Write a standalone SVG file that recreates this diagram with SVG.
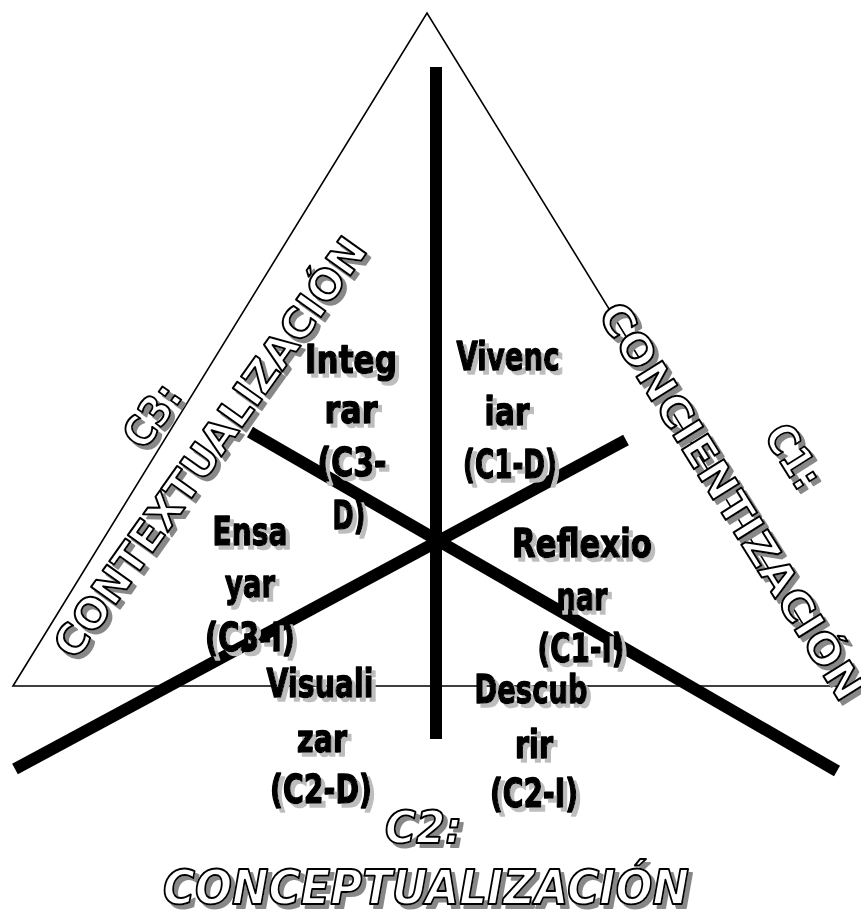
<svg xmlns="http://www.w3.org/2000/svg" width="861" height="917" viewBox="0 0 861 917">
<defs>
<filter id="shLight" x="-20%" y="-20%" width="150%" height="160%">
<feOffset in="SourceAlpha" dx="4" dy="4" result="o"/>
<feFlood flood-color="#bdbdbd"/>
<feComposite in2="o" operator="in" result="s"/>
<feMerge><feMergeNode in="s"/><feMergeNode in="SourceGraphic"/></feMerge>
</filter>
<filter id="shDark" x="-20%" y="-20%" width="150%" height="160%">
<feOffset in="SourceAlpha" dx="4" dy="4" result="o"/>
<feFlood flood-color="#888888"/>
<feComposite in2="o" operator="in" result="s"/>
<feMerge><feMergeNode in="s"/><feMergeNode in="SourceGraphic"/></feMerge>
</filter>
</defs>
<style>
.blk{font-family:"DejaVu Sans","Liberation Sans",sans-serif;font-weight:bold;font-size:39px;fill:#000;stroke:#000;stroke-width:1.6px;stroke-linejoin:round;text-anchor:middle}
.out{font-family:"DejaVu Sans","Liberation Sans",sans-serif;font-weight:bold;font-size:42px;fill:#fff;stroke:#000;stroke-width:2px;stroke-linejoin:round;text-anchor:middle}
.ital{font-style:italic;text-anchor:start}
.bar{stroke:#000;stroke-width:12;fill:none;stroke-linecap:butt}
</style>
<rect width="861" height="917" fill="#fff"/>
<polygon id="triangle" points="13,686 427,13 841,686" fill="none" stroke="#000" stroke-width="1.6"/>
<g id="connectors">
<line class="bar" x1="436" y1="67" x2="436" y2="739"/>
<line class="bar" x1="250" y1="432" x2="837" y2="771"/>
<line class="bar" x1="15" y1="769" x2="626" y2="440"/>
</g>
<g id="c3-label" filter="url(#shDark)">
<text class="out" transform="translate(164,424) rotate(-54.5)" textLength="68" lengthAdjust="spacingAndGlyphs">C3:</text>
<text class="out" transform="translate(222,456) rotate(-54.5)" textLength="505" lengthAdjust="spacingAndGlyphs">CONTEXTUALIZACIÓN</text>
</g>
<g id="c1-label" filter="url(#shDark)">
<text class="out" transform="translate(781,464) rotate(58)" textLength="68" lengthAdjust="spacingAndGlyphs">C1:</text>
<text class="out" transform="translate(719,509) rotate(58)" textLength="460" lengthAdjust="spacingAndGlyphs">CONCIENTIZACIÓN</text>
</g>
<g id="c2-label" filter="url(#shDark)">
<text class="out ital" x="385" y="843" style="font-size:44px" textLength="77" lengthAdjust="spacingAndGlyphs">C2:</text>
<text class="out ital" x="163" y="904" style="font-size:48px" textLength="526" lengthAdjust="spacingAndGlyphs">CONCEPTUALIZACIÓN</text>
</g>
<g id="integrar" filter="url(#shLight)">
<text class="blk" x="351" y="373" textLength="92" lengthAdjust="spacingAndGlyphs">Integ</text>
<text class="blk" x="351" y="423" textLength="53" lengthAdjust="spacingAndGlyphs">rar</text>
<text class="blk" x="352" y="476" textLength="69" lengthAdjust="spacingAndGlyphs">(C3-</text>
<text class="blk" x="349" y="529" textLength="33" lengthAdjust="spacingAndGlyphs">D)</text>
</g>
<g id="vivenciar" filter="url(#shLight)">
<text class="blk" x="508" y="370" textLength="103" lengthAdjust="spacingAndGlyphs">Vivenc</text>
<text class="blk" x="507" y="425" textLength="45" lengthAdjust="spacingAndGlyphs">iar</text>
<text class="blk" x="510" y="478" textLength="94" lengthAdjust="spacingAndGlyphs">(C1-D)</text>
</g>
<g id="reflexionar" filter="url(#shLight)">
<text class="blk" x="582" y="557" textLength="140" lengthAdjust="spacingAndGlyphs">Reflexio</text>
<text class="blk" x="582" y="610" textLength="51" lengthAdjust="spacingAndGlyphs">nar</text>
<text class="blk" x="581" y="662" textLength="87" lengthAdjust="spacingAndGlyphs">(C1-I)</text>
</g>
<g id="descubrir" filter="url(#shLight)">
<text class="blk" x="531" y="703" textLength="113" lengthAdjust="spacingAndGlyphs">Descub</text>
<text class="blk" x="534" y="758" textLength="38" lengthAdjust="spacingAndGlyphs">rir</text>
<text class="blk" x="534" y="807" textLength="88" lengthAdjust="spacingAndGlyphs">(C2-I)</text>
</g>
<g id="ensayar" filter="url(#shLight)">
<text class="blk" x="250" y="545" textLength="75" lengthAdjust="spacingAndGlyphs">Ensa</text>
<text class="blk" x="250" y="597" textLength="50" lengthAdjust="spacingAndGlyphs">yar</text>
<text class="blk" x="250" y="651" textLength="90" lengthAdjust="spacingAndGlyphs">(C3-I)</text>
</g>
<g id="visualizar" filter="url(#shLight)">
<text class="blk" x="320" y="697" textLength="107" lengthAdjust="spacingAndGlyphs">Visuali</text>
<text class="blk" x="322" y="752" textLength="50" lengthAdjust="spacingAndGlyphs">zar</text>
<text class="blk" x="321" y="803" textLength="102" lengthAdjust="spacingAndGlyphs">(C2-D)</text>
</g>
</svg>
